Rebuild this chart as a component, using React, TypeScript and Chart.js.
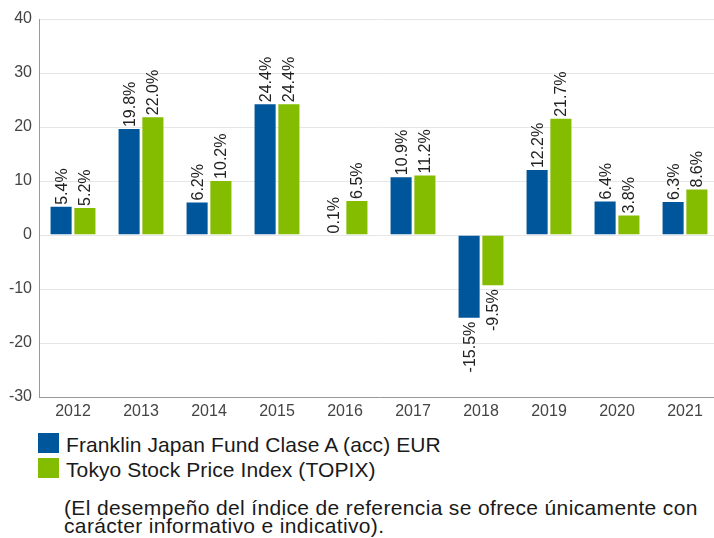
import React, { useEffect, useRef } from "react";
import { Chart, registerables } from "chart.js";

Chart.register(...registerables);

const years = ["2012", "2013", "2014", "2015", "2016", "2017", "2018", "2019", "2020", "2021"];
const fundValues = [5.4, 19.8, 6.2, 24.4, 0.1, 10.9, -15.5, 12.2, 6.4, 6.3];
const indexValues = [5.2, 22.0, 10.2, 24.4, 6.5, 11.2, -9.5, 21.7, 3.8, 8.6];
const fundLabel = "Franklin Japan Fund Clase A (acc) EUR";
const indexLabel = "Tokyo Stock Price Index (TOPIX)";
const noteLine1 = "(El desempeño del índice de referencia se ofrece únicamente con";
const noteLine2 = "carácter informativo e indicativo).";

const BLUE = "#00569b";
const GREEN = "#84bc00";
const FONT = "'Liberation Sans', Arial, sans-serif";

const labelPlugin = {
  id: "barLabels",
  afterDatasetsDraw(chart: any) {
    const ctx = chart.ctx;
    ctx.save();
    ctx.font = `16px ${FONT}`;
    ctx.fillStyle = "#222";
    ctx.textBaseline = "middle";
    chart.data.datasets.forEach((ds: any, di: number) => {
      const meta = chart.getDatasetMeta(di);
      meta.data.forEach((el: any, i: number) => {
        const v = ds.data[i];
        const txt = v.toFixed(1) + "%";
        ctx.save();
        if (v >= 0) {
          ctx.translate(el.x, el.y - 1);
          ctx.rotate(-Math.PI / 2);
          ctx.textAlign = "left";
        } else {
          ctx.translate(el.x, el.y + 3);
          ctx.rotate(-Math.PI / 2);
          ctx.textAlign = "right";
        }
        ctx.fillText(txt, 0, 1);
        ctx.restore();
      });
    });
    ctx.restore();
  },
};

export default function App() {
  const ref = useRef<HTMLCanvasElement | null>(null);
  useEffect(() => {
    if (!ref.current) return;
    const chart = new Chart(ref.current, {
      type: "bar",
      data: {
        labels: years,
        datasets: [
          { label: fundLabel, data: fundValues, backgroundColor: BLUE, borderWidth: 1, borderColor: "rgba(255,255,255,0.3)" },
          { label: indexLabel, data: indexValues, backgroundColor: GREEN, borderWidth: 1, borderColor: "rgba(255,255,255,0.3)" },
        ],
      },
      options: {
        animation: false,
        responsive: false,
        maintainAspectRatio: false,
        layout: { padding: { top: 19, right: 1, left: 0, bottom: 0 } },
        datasets: { bar: { categoryPercentage: 0.7, barPercentage: 0.97 } } as any,
        plugins: { legend: { display: false }, tooltip: { enabled: false } },
        scales: {
          x: {
            grid: { display: false, drawTicks: false },
            border: { display: true, color: "#999" },
            ticks: { color: "#444", font: { size: 16, family: FONT }, padding: 5 },
            afterFit: (s: any) => { s.height = 23; },
          },
          y: {
            min: -30,
            max: 40,
            grid: { color: "#e6e6e6", drawTicks: false },
            border: { display: true, color: "#999" },
            ticks: { stepSize: 10, color: "#444", font: { size: 16, family: FONT }, padding: 7 },
            afterFit: (s: any) => { s.width = 39; },
          },
        },
      },
      plugins: [labelPlugin],
    });
    return () => chart.destroy();
  }, []);

  const sq = (c: string, top: number) => (
    <div style={{ position: "absolute", left: 38, top, width: 21, height: 20, background: c }} />
  );
  const txt: React.CSSProperties = {
    position: "absolute",
    left: 66,
    fontFamily: FONT,
    fontSize: 21,
    color: "#1a1a1a",
    whiteSpace: "nowrap",
    lineHeight: "21px",
    letterSpacing: "0.1px",
  };
  const noteStyle: React.CSSProperties = {
    ...txt,
    left: 64,
    lineHeight: "18px",
    letterSpacing: "0.35px",
  };

  return (
    <div style={{ position: "fixed", left: 0, top: 0, width: 714, height: 538, background: "#fff", overflow: "hidden" }}>
      <canvas ref={ref} width={720} height={420} style={{ position: "absolute", left: 0, top: 0 }} />
      {sq(BLUE, 433)}
      <div style={{ ...txt, top: 434 }}>{fundLabel}</div>
      {sq(GREEN, 458)}
      <div style={{ ...txt, top: 459 }}>{indexLabel}</div>
      <div style={{ ...noteStyle, top: 499 }}>{noteLine1}</div>
      <div style={{ ...noteStyle, top: 517 }}>{noteLine2}</div>
    </div>
  );
}
